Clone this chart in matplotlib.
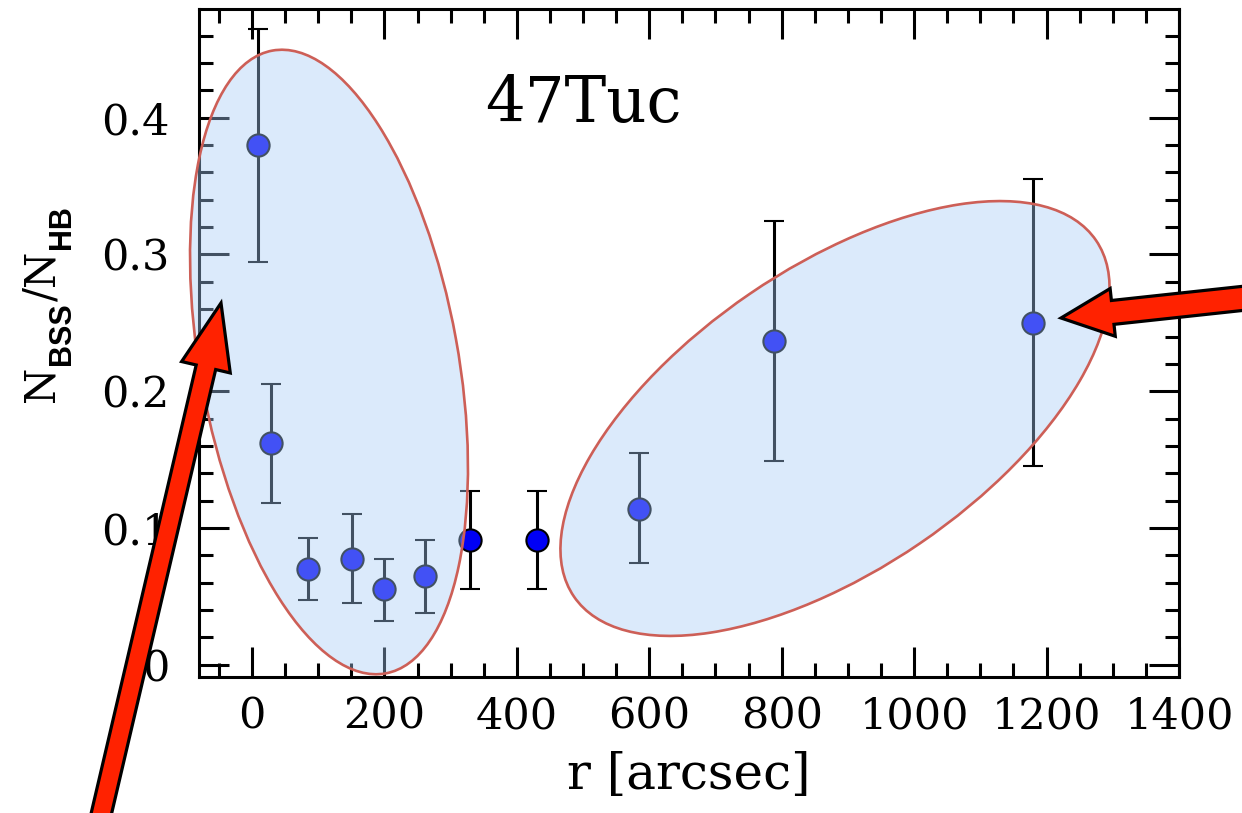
import matplotlib
matplotlib.use('Agg')
import matplotlib.pyplot as plt
from matplotlib.patches import Ellipse, FancyArrow
from matplotlib.transforms import IdentityTransform
from matplotlib.ticker import MultipleLocator, FuncFormatter
from matplotlib.font_manager import FontProperties

# ---- data ----
r_arcsec = [9, 29, 85, 151, 200, 261, 330, 431, 585, 788, 1180]
ratio = [0.380, 0.162, 0.070, 0.0775, 0.055, 0.0645, 0.0914, 0.0914, 0.114, 0.237, 0.250]
ratio_hi = [0.465, 0.205, 0.093, 0.110, 0.0775, 0.091, 0.127, 0.127, 0.1545, 0.3246, 0.355]
ratio_lo = [0.2946, 0.118, 0.047, 0.0448, 0.0322, 0.0378, 0.0553, 0.0553, 0.0743, 0.149, 0.1455]
x_ticks = [0, 200, 400, 600, 800, 1000, 1200, 1400]
y_ticks = [0, 0.1, 0.2, 0.3, 0.4]
cluster_name = '47Tuc'
x_label = 'r [arcsec]'
# y label pieces: (text, is_subscript)
y_label_parts = [('N', False), ('BSS', True), ('/', False), ('N', False), ('HB', True)]

plt.rcParams['font.family'] = ['DejaVu Serif']

W, H = 1242, 813
fig = plt.figure(figsize=(W / 100, H / 100), dpi=100)
ax = fig.add_axes([199 / W, 1 - 677 / H, 980 / W, 668 / H])

yerr = [[v - lo for v, lo in zip(ratio, ratio_lo)],
        [hi - v for v, hi in zip(ratio, ratio_hi)]]
ax.errorbar(r_arcsec, ratio, yerr=yerr, fmt='o', ms=16, mfc='#0000f5', mec='black',
            mew=1.5, ecolor='black', elinewidth=2.2, capsize=7, capthick=2.2, zorder=3)

ax.set_xlim(-80, 1400)
ax.set_ylim(-0.009, 0.4795)
ax.set_xticks(x_ticks)
ax.set_yticks(y_ticks)
ax.xaxis.set_minor_locator(MultipleLocator(50))
ax.yaxis.set_minor_locator(MultipleLocator(0.02))
ax.yaxis.set_major_formatter(FuncFormatter(lambda v, p: '0' if abs(v) < 1e-9 else f'{v:g}'))
ax.tick_params(which='both', direction='in', top=True, right=True, width=2.2, color='black')
ax.tick_params(which='major', length=21.5, labelsize=31)
ax.tick_params(which='minor', length=10)
ax.tick_params(axis='x', pad=13)
ax.tick_params(axis='y', pad=21)
for s in ax.spines.values():
    s.set_linewidth(2.2)

ax.text(500, 0.397, cluster_name, fontsize=45, ha='center', va='baseline')
fig.text(689 / W, 1 - 789 / H, x_label, fontsize=36, ha='center', va='baseline')

# ---- y label built from pieces (serif N, bold sans subscripts) ----
renderer = fig.canvas.get_renderer()
serif_fp = FontProperties(family='DejaVu Serif', size=30)
sub_fp = FontProperties(family=['Liberation Sans Narrow', 'Liberation Sans', 'DejaVu Sans'],
                        weight='bold', size=22)
y_cur = H - 402
base_x = 54
for txt, is_sub in y_label_parts:
    t = fig.text(base_x + (16 if is_sub else 0), y_cur, txt,
                 fontproperties=sub_fp if is_sub else serif_fp, rotation=90,
                 rotation_mode='anchor', ha='left', va='baseline',
                 transform=IdentityTransform())
    y_cur += t.get_window_extent(renderer).height + 1

# ---- highlight ellipses (pixel space) ----
ell_kw = dict(facecolor=(0.65, 0.80, 0.97, 0.40), edgecolor='#cd5f57', linewidth=1.9,
              transform=IdentityTransform(), clip_on=False, zorder=5)
ax.add_patch(Ellipse((329, H - 362), 633, 258, angle=100.3, **ell_kw))
ax.add_patch(Ellipse((835, H - 418.5), 632, 302, angle=34.3, **ell_kw))

# ---- arrows ----
arr_kw = dict(facecolor='#ff2200', edgecolor='black', linewidth=2.3, length_includes_head=True,
              transform=IdentityTransform(), clip_on=False, zorder=7)
ax.add_patch(FancyArrow(96.3, H - 835, 221 - 96.3, (H - 303) - (H - 835), width=20,
                        head_width=50, head_length=66, **arr_kw))
ax.add_patch(FancyArrow(1262, H - 296.3, 1061 - 1262, (H - 318) - (H - 296.3), width=24,
                        head_width=48, head_length=52, **arr_kw))

fig.savefig('out.png', dpi=100)
